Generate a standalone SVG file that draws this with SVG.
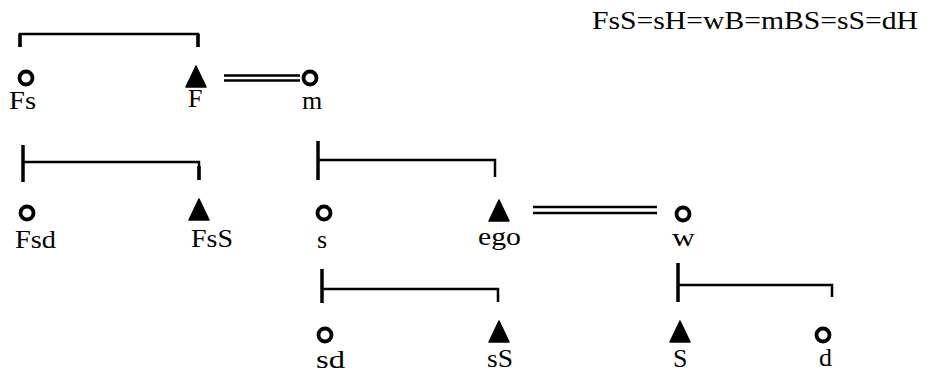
<svg xmlns="http://www.w3.org/2000/svg" width="935" height="387" viewBox="0 0 935 387">
  <style>
    .f { fill: none; stroke: #000; stroke-width: 3.8; }
    .m { fill: #000; stroke: #000; stroke-width: 1.5; stroke-linejoin: round; }
    .ln { fill: none; stroke: #000; stroke-width: 2.5; stroke-linecap: butt; }
    .tk { fill: none; stroke: #000; stroke-width: 3.5; }
    text { font-family: "Liberation Serif", "Times New Roman", serif; font-size: 26px; fill: #000; }
  </style>
  <rect width="935" height="387" fill="#fff"/>

  <!-- kin equation -->
  <text x="592" y="29" textLength="326" lengthAdjust="spacingAndGlyphs" style="font-size:25px">FsS=sH=wB=mBS=sS=dH</text>

  <!-- sibling brackets and marriage lines -->
  <g id="connectors">
    <!-- Fs / F -->
    <path class="ln" d="M20,47 V34 H198 V47"/>
    <path class="tk" d="M20,34 V47 M198,34 V47"/>
    <!-- F = m -->
    <path class="ln" d="M224,75.5 H300 M224,80.5 H300"/>
    <!-- Fsd / FsS -->
    <path class="ln" d="M23,162 H199 V180"/>
    <path class="tk" d="M23,145 V182 M199,166 V180"/>
    <!-- s / ego -->
    <path class="ln" d="M318,160 H495 V177"/>
    <path class="tk" d="M318,141 V180"/>
    <!-- ego = w -->
    <path class="ln" d="M533,207 H657 M533,213 H657"/>
    <!-- sd / sS -->
    <path class="ln" d="M322,289 H498 V302"/>
    <path class="tk" d="M322,269 V303"/>
    <!-- S / d -->
    <path class="ln" d="M678,285 H832 V297"/>
    <path class="tk" d="M678,263 V302"/>
  </g>

  <g id="Fs"><circle class="f" cx="26" cy="78" r="6.5"/><text x="9" y="109" textLength="27" lengthAdjust="spacingAndGlyphs">Fs</text></g>
  <g id="F"><path class="m" d="M196,66 L186,87 L206,87 Z"/><text x="188" y="107">F</text></g>
  <g id="m"><circle class="f" cx="310" cy="78" r="6.5"/><text x="302" y="109">m</text></g>

  <g id="Fsd"><circle class="f" cx="27" cy="213" r="6.5"/><text x="15" y="248" textLength="41" lengthAdjust="spacingAndGlyphs">Fsd</text></g>
  <g id="FsS"><path class="m" d="M199,199 L189,220 L209,220 Z"/><text x="191" y="247" textLength="42" lengthAdjust="spacingAndGlyphs">FsS</text></g>
  <g id="s"><circle class="f" cx="324" cy="213" r="6.5"/><text x="317" y="248">s</text></g>
  <g id="ego"><path class="m" d="M499,200 L489,221 L509,221 Z"/><text x="478" y="245" textLength="43" lengthAdjust="spacingAndGlyphs">ego</text></g>
  <g id="w"><circle class="f" cx="683" cy="214" r="6.5"/><text x="672" y="246" textLength="23" lengthAdjust="spacingAndGlyphs">w</text></g>

  <g id="sd"><circle class="f" cx="325" cy="335" r="6.5"/><text x="316" y="368" textLength="29" lengthAdjust="spacingAndGlyphs">sd</text></g>
  <g id="sS"><path class="m" d="M499,321 L489,342 L509,342 Z"/><text x="487" y="367" textLength="26" lengthAdjust="spacingAndGlyphs">sS</text></g>
  <g id="S"><path class="m" d="M680,321 L670,342 L690,342 Z"/><text x="673" y="367">S</text></g>
  <g id="d"><circle class="f" cx="823" cy="335" r="6.5"/><text x="819" y="366">d</text></g>
</svg>
